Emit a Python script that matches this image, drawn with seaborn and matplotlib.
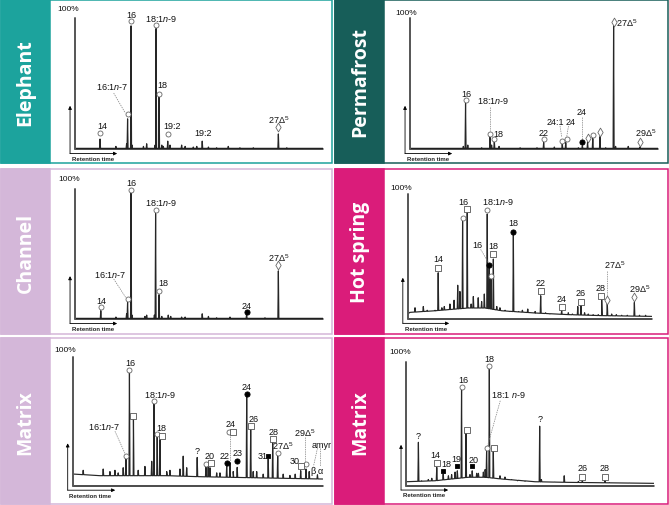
import numpy as np
import matplotlib
matplotlib.use("Agg")
import matplotlib.pyplot as plt
from matplotlib.patches import Rectangle
import seaborn as sns

sns.set_theme(style="white")
plt.rcParams["font.family"] = ["Liberation Sans", "DejaVu Sans"]
plt.rcParams["mathtext.fontset"] = "custom"
plt.rcParams["mathtext.rm"] = "Liberation Sans"
plt.rcParams["mathtext.it"] = "Liberation Sans:italic"

# ---- data (retention 0-100, intensity in % of max) ----
# Elephant
el_base_rt = [0, 100]
el_base_h = [0.5, 0.5]
el_peak_rt = [10.1, 16.5, 20.8, 21.2, 22.6, 23.0, 27.6, 28.9, 32.3, 32.7, 33.9, 35.0, 35.6, 37.4,
              38.3, 43.0, 44.4, 47.7, 49.1, 51.3, 53.8, 57.1, 61.8, 66.5, 71.9, 82.0, 85.4]
el_peak_h = [7.6, 2, 4, 23, 94, 3, 2, 4, 3, 92, 40, 3, 2, 6,
             3, 3, 2, 1.5, 2, 6, 1.5, 1, 2, 1, 1, 11.5, 1]
el_marks = [(10.1, 12.4, "o"), (21.2, 26.5, "o"), (22.6, 97.5, "o"), (32.7, 94.7, "o"),
            (33.9, 42.2, "o"), (37.4, 11.7, "o"), (82.0, 17, "d")]
el_labels = [("14", 11.2, 18.3), ("16:1$n$-7", 14.8, 47.9), ("16", 22.6, 103), ("18:1$n$-9", 34.7, 99.7),
             ("18", 35.4, 48.9), ("19:2", 39.0, 17.8), ("19:2", 51.7, 12.7), ("27Δ$^5$", 82.0, 22.9)]
el_leaders = [(15.6, 42.7, 20.3, 27.4)]

# Permafrost
pf_base_rt = [0, 100]
pf_base_h = [0.5, 0.5]
pf_peak_rt = [21.5, 22.4, 23.3, 28.9, 32.3, 32.9, 34.0, 35.9, 44.4, 51.2, 53.9, 58.2, 61.4, 62.8,
              67.9, 69.5, 71.6, 73.7, 76.6, 78.9, 82.1, 82.9, 88.0, 92.7]
pf_peak_h = [2, 35, 3, 1, 10, 3, 6, 2, 1, 1, 5, 1.5, 4, 5,
             1, 2.5, 5, 8, 9.4, 1, 94, 2, 2, 1.5]
pf_marks = [(22.4, 37.6, "o"), (32.3, 11.5, "o"), (34.0, 7.6, "o"), (53.9, 7.6, "o"), (61.4, 6.4, "o"),
            (63.2, 7.6, "o"), (69.5, 5.6, "of"), (71.6, 8.1, "d"), (73.7, 10.9, "o"), (76.6, 12.7, "d"),
            (82.1, 96.7, "d"), (92.7, 5.6, "d")]
pf_labels = [("16", 22.6, 42.2), ("18:1$n$-9", 33.6, 37.4), ("18", 35.6, 12.0), ("22", 53.9, 12.7),
             ("24:1", 58.5, 20.9), ("24", 64.9, 20.9), ("24", 69.2, 28.7), ("27Δ$^5$", 87.2, 96.7),
             ("29Δ$^5$", 94.9, 12.7)]
pf_leaders = [(32.3, 32.3, 32.3, 13.5), (60.5, 17.5, 61.2, 9.0), (63.9, 17.5, 63.2, 9.5),
              (69.5, 24.4, 69.5, 7.6)]

# Channel
ch_base_rt = [0, 100]
ch_base_h = [0.5, 0.5]
ch_peak_rt = [10.4, 16.5, 20.8, 21.2, 22.6, 23.0, 28.2, 28.9, 32.0, 32.5, 33.9, 35.0, 37.6, 38.6,
              43.0, 44.4, 51.3, 53.8, 57.1, 62.5, 69.2, 76.6, 82.0]
ch_peak_h = [6.4, 1.5, 4, 12.8, 97, 3, 2, 3, 3, 81, 18.7, 2, 3, 2,
             1.5, 1.5, 4, 2, 1, 1.5, 3.8, 1, 37]
ch_marks = [(10.4, 9.0, "o"), (21.2, 15.4, "o"), (22.6, 99.5, "o"), (32.5, 83.8, "o"),
            (33.9, 21.3, "o"), (69.2, 5.1, "of"), (82.0, 41.5, "d")]
ch_labels = [("14", 10.8, 14.1), ("16:1$n$-7", 14.1, 34.6), ("16", 22.6, 105.1), ("18:1$n$-9", 34.5, 89.7),
             ("18", 35.6, 28.2), ("24", 69.2, 10.3), ("27Δ$^5$", 82.0, 47.4)]
ch_leaders = [(15.6, 30.8, 20.4, 16.7)]

# Hot spring
hs_base_rt = [0, 0.9, 11.2, 24.8, 31.7, 38.5, 52.2, 65.8, 79.5, 100]
hs_base_h = [4, 5.3, 6.6, 8.8, 8.8, 6.6, 4.8, 3.5, 2.7, 2.1]
hs_peak_rt = [3.0, 6.4, 8.0, 11.2, 12.5, 14.0, 15.0, 17.3, 19.0, 20.5, 21.4, 22.5, 24.4, 26.0, 26.9,
              28.9, 30.3, 31.4, 32.6, 33.4, 34.1, 35.1, 36.5, 37.8, 39.9, 41.9, 43.3, 45.5, 47.0,
              49.2, 52.2, 54.5, 56.5, 58.3, 61.0, 63.1, 65.8, 67.5, 69.7, 71.0, 72.5, 74.0, 76.0,
              78.1, 79.5, 81.8, 83.6, 85.5, 87.7, 90.0, 92.9, 95.0, 97.5]
hs_peak_h = [9, 10, 7, 7, 37, 9, 10, 12, 15, 27, 22, 78, 85, 12, 18,
             17, 14, 20, 84, 42.6, 33, 48, 10, 9, 7, 6, 68, 6, 7,
             8, 6, 18.6, 5, 4, 4, 6.6, 5, 4, 10, 11.4, 5, 4, 3.5,
             3.5, 16, 12.5, 4, 3.5, 3, 3, 13.3, 3, 3]
hs_marks = [(12.5, 40.8, "s"), (22.5, 80.5, "o"), (24.4, 88, "s"), (32.6, 87.2, "o"), (33.4, 43.2, "of"),
            (34.1, 34.6, "o"), (35.1, 52, "s"), (43.3, 69.3, "of"), (54.5, 22.1, "s"), (63.1, 9.9, "s"),
            (71.0, 13.9, "s"), (79.1, 18.7, "s"), (81.8, 15.2, "d"), (92.9, 17.9, "d")]
hs_labels = [("14", 12.5, 48), ("16", 22.8, 94.1), ("18:1$n$-9", 37.1, 94.1), ("16", 28.7, 60),
             ("18", 35.1, 58.6), ("18", 43.3, 77.3), ("22", 54.5, 29.3), ("24", 63.1, 16.5),
             ("26", 71.0, 21.3), ("28", 79.1, 25.3), ("27Δ$^5$", 85.0, 43.5), ("29Δ$^5$", 95.2, 24.5)]
hs_leaders = [(29.9, 55.7, 33.0, 45.5), (81.8, 38.7, 81.8, 17.9)]

# Matrix (left)
ml_base_rt = [0, 10.9, 24.2, 37.6, 50.9, 64.2, 77.6, 100]
ml_base_h = [9.1, 7.8, 7.8, 7.8, 7.0, 6.5, 6.0, 5.2]
ml_peak_rt = [4.2, 12.2, 14.9, 16.9, 18.2, 20.2, 21.3, 22.7, 24.3, 26.2, 28.9, 31.6, 32.5, 33.8, 34.9,
              37.6, 38.9, 42.9, 44.2, 45.6, 49.8, 53.3, 54.2, 54.9, 57.6, 58.9, 61.6, 62.9, 64.2,
              65.8, 69.6, 71.2, 72.2, 73.6, 76.2, 78.2, 80.0, 82.0, 84.2, 86.9, 89.0, 91.2, 93.3,
              94.6, 97.9]
ml_peak_h = [12, 13, 11, 12, 10, 14, 20.8, 88, 52, 12, 15, 19, 63.7, 38.5, 38,
             11, 12, 13, 23, 14, 22, 15.6, 17, 14, 10, 10, 15.6, 18, 11,
             14.3, 70, 44, 11, 11, 9, 20.8, 33.8, 23.4, 9, 8, 9, 11.7, 13,
             11, 8.5]
ml_marks = [(21.3, 23.4, "o"), (22.7, 90.4, "o"), (24.3, 54.1, "s"), (32.5, 66.3, "o"), (33.8, 40.3, "o"),
            (35.8, 39, "s"), (53.3, 16.9, "o"), (55.2, 17.7, "s"), (61.6, 17.7, "of"), (62.4, 42.1, "o"),
            (64.2, 42.1, "s"), (65.8, 19.5, "of"), (69.6, 71.5, "of"), (71.2, 46.8, "s"), (78.2, 23.4, "sf"),
            (80.0, 36.4, "s"), (82.0, 25.5, "o"), (91.2, 15.1, "s"), (93.3, 16.9, "o")]
ml_labels = [("16:1$n$-7", 12.5, 46.8), ("16", 22.9, 96.2), ("18:1$n$-9", 34.9, 71.5), ("18", 35.3, 45.5),
             ("?", 49.8, 27.3), ("20", 54.6, 23.4), ("22", 60.6, 23.4), ("24", 63.3, 48.1), ("23", 65.8, 25.5),
             ("24", 69.6, 77.5), ("26", 72.2, 52.5), ("31", 75.8, 23.4), ("28", 80.3, 42.4),
             ("27Δ$^5$", 84.2, 31.7), ("30", 88.9, 19.5), ("29Δ$^5$", 92.9, 41.6), ("β", 96.0, 11.7),
             ("α", 99.0, 11.5), ("amyr", 99.5, 32)]
ml_leaders = [(16.9, 42.4, 20.9, 25.2), (62.9, 38.9, 62.9, 19.4), (92.9, 37.7, 92.9, 18.2),
              (97.9, 29.2, 96.3, 15.0), (98.9, 29.2, 98.9, 15.0)]

# Matrix (right)
mr_base_rt = [0, 11.7, 25.1, 31.9, 38.6, 52.0, 65.4, 100]
mr_base_h = [3.2, 4.0, 6.8, 6.8, 5.4, 3.2, 2.7, 1.9]
mr_peak_rt = [5.0, 6.3, 9.0, 10.4, 12.4, 15.0, 17.1, 18.4, 19.8, 20.7, 22.4, 24.2, 25.8, 26.7, 28.5,
              29.2, 31.2, 31.9, 32.5, 33.6, 35.2, 37.9, 39.9, 42.6, 45.0, 48.0, 53.9, 54.6, 60.0,
              63.8, 69.5, 71.1, 75.0, 80.2, 82.0, 90.0]
mr_peak_h = [35, 4, 5, 6, 14.8, 9.4, 8, 9, 11, 12, 78, 43, 9, 12, 10,
             10, 11, 13, 28, 95, 28, 8, 7, 5, 4, 3.5, 48, 5, 3,
             8, 3.5, 4, 2.5, 4, 2.5, 2.2]
mr_marks = [(12.4, 18.3, "s"), (15.0, 12.1, "sf"), (20.7, 15.6, "sf"), (22.4, 79.4, "o"), (24.7, 45.2, "s"),
            (26.7, 15.6, "sf"), (32.5, 30.1, "o"), (33.6, 96.8, "o"), (35.5, 30.1, "s"), (71.1, 7.3, "s"),
            (80.2, 7.3, "s")]
mr_labels = [("?", 5.0, 40.3), ("14", 11.7, 24.8), ("18", 16.4, 17.5), ("19", 20.4, 22.1), ("16", 23.1, 86),
             ("20", 27.2, 21.5), ("18:1 $n$-9", 41.3, 73.9), ("18", 33.6, 102.7), ("?", 53.9, 54.4),
             ("26", 71.1, 14.8), ("28", 79.9, 14.8)]
mr_leaders = [(38.0, 68.5, 32.9, 32.2)]

names = ["Elephant", "Permafrost", "Channel", "Hot spring", "Matrix", "Matrix"]
colors = ["#1ca39d", "#175e59", "#d4b7d9", "#da1c7a", "#d4b7d9", "#da1c7a"]
hundred_pos = [(-2.7, 106.9), (-1.7, 104.3), (-2.3, 107.7), (-2.5, 104.8), (-3.1, 106), (-2.4, 108)]

# ---- layout in pixels ----
W, H = 669, 506
boxes = [(0.7, 0.7, 332, 164), (335, 0.7, 668.3, 164),
         (0.7, 170, 332, 335), (335, 170, 668.3, 335),
         (0.7, 339, 332, 505.3), (335, 339, 668.3, 505.3)]
axboxes = [(75, 323, 150, 19), (410, 658, 150, 19),
           (75, 323, 320, 190), (407.7, 651.7, 320, 195),
           (72.7, 322.7, 486.7, 358.3), (406, 654, 486.7, 362.7)]

fig = plt.figure(figsize=(W / 100, H / 100), dpi=100)


def fx(x):
    return x / W


def fy(y):
    return 1 - y / H


mstyle = {
    "o": dict(marker="o", s=13, color="white", edgecolor="#666666"),
    "s": dict(marker="s", s=13, color="white", edgecolor="#555555"),
    "of": dict(marker="o", s=14, color="black", edgecolor="black"),
    "sf": dict(marker="s", s=12, color="black", edgecolor="black"),
    "d": dict(marker="d", s=20, color="white", edgecolor="#666666"),
}


def draw_panel(i, base_rt, base_h, pk_rt, pk_h, marks, labels, leaders):
    l, t, r, b = boxes[i]
    color = colors[i]
    fig.patches.append(Rectangle((fx(l), fy(b)), (r - l) / W, (b - t) / H, transform=fig.transFigure,
                                 facecolor="white", edgecolor=color, lw=1.1, zorder=-2))
    fig.patches.append(Rectangle((fx(l), fy(b)), 49 / W, (b - t) / H, transform=fig.transFigure,
                                 facecolor=color, edgecolor=color, lw=1.1, zorder=-1))
    fig.text(fx(l + 25), fy((t + b) / 2), names[i], rotation=90, ha="center", va="center",
             color="white", fontsize=14, fontweight="bold", family="Open Sans")

    x0, x1, yb, yt = axboxes[i]
    ax = fig.add_axes([fx(x0), fy(yb), (x1 - x0) / W, (yb - yt) / H])
    ax.set_xlim(0, 100)
    ax.set_ylim(0, 100)
    ax.axis("off")

    # chromatogram trace: baseline plus narrow spikes
    xs, ys = list(base_rt), list(base_h)
    for rt, h in zip(pk_rt, pk_h):
        bh = np.interp(rt, base_rt, base_h)
        xs += [rt - 0.2, rt, rt + 0.2]
        ys += [bh, h, bh]
    order = np.argsort(xs, kind="stable")
    sns.lineplot(x=np.array(xs)[order], y=np.array(ys)[order], sort=False, estimator=None,
                 color="#262626", lw=0.85, ax=ax)

    # axis lines
    ax.plot([0, 100], [0, 0], color="#1a1a1a", lw=1.1, clip_on=False)
    ax.plot([0, 0], [0, 100], color="#555555", lw=1.4, clip_on=False)
    hx, hy = hundred_pos[i]
    ax.text(hx, hy, "100%", fontsize=6, ha="center", va="center", color="#111111")

    for x1_, y1_, x2_, y2_ in leaders:
        ax.plot([x1_, x2_], [y1_, y2_], ls=(0, (2, 1.3)), lw=0.5, color="#808080", clip_on=False)

    for kind, st in mstyle.items():
        pts = [(m[0], m[1]) for m in marks if m[2] == kind]
        if pts:
            sns.scatterplot(x=[p[0] for p in pts], y=[p[1] for p in pts], ax=ax, linewidth=0.6,
                            zorder=5, clip_on=False, legend=False, **st)

    for txt, lx, ly in labels:
        ax.text(lx, ly, txt, fontsize=6.5, ha="center", va="center", color="#111111", clip_on=False)

    # retention-time arrows
    arrow = dict(arrowstyle="-|>", lw=0.6, color="black", mutation_scale=5, shrinkA=0, shrinkB=0)
    ax.annotate("", xy=(-0.02, 0.33), xytext=(-0.02, -0.035), xycoords="axes fraction",
                arrowprops=arrow, annotation_clip=False)
    ax.annotate("", xy=(0.17, -0.035), xytext=(-0.02, -0.035), xycoords="axes fraction",
                arrowprops=arrow, annotation_clip=False)
    ax.text(-0.013, -0.075, "Retention time", transform=ax.transAxes, fontsize=4.3,
            fontweight="bold", ha="left", va="center", color="#222222")


draw_panel(0, el_base_rt, el_base_h, el_peak_rt, el_peak_h, el_marks, el_labels, el_leaders)
draw_panel(1, pf_base_rt, pf_base_h, pf_peak_rt, pf_peak_h, pf_marks, pf_labels, pf_leaders)
draw_panel(2, ch_base_rt, ch_base_h, ch_peak_rt, ch_peak_h, ch_marks, ch_labels, ch_leaders)
draw_panel(3, hs_base_rt, hs_base_h, hs_peak_rt, hs_peak_h, hs_marks, hs_labels, hs_leaders)
draw_panel(4, ml_base_rt, ml_base_h, ml_peak_rt, ml_peak_h, ml_marks, ml_labels, ml_leaders)
draw_panel(5, mr_base_rt, mr_base_h, mr_peak_rt, mr_peak_h, mr_marks, mr_labels, mr_leaders)

fig.savefig("out.png", dpi=100)
